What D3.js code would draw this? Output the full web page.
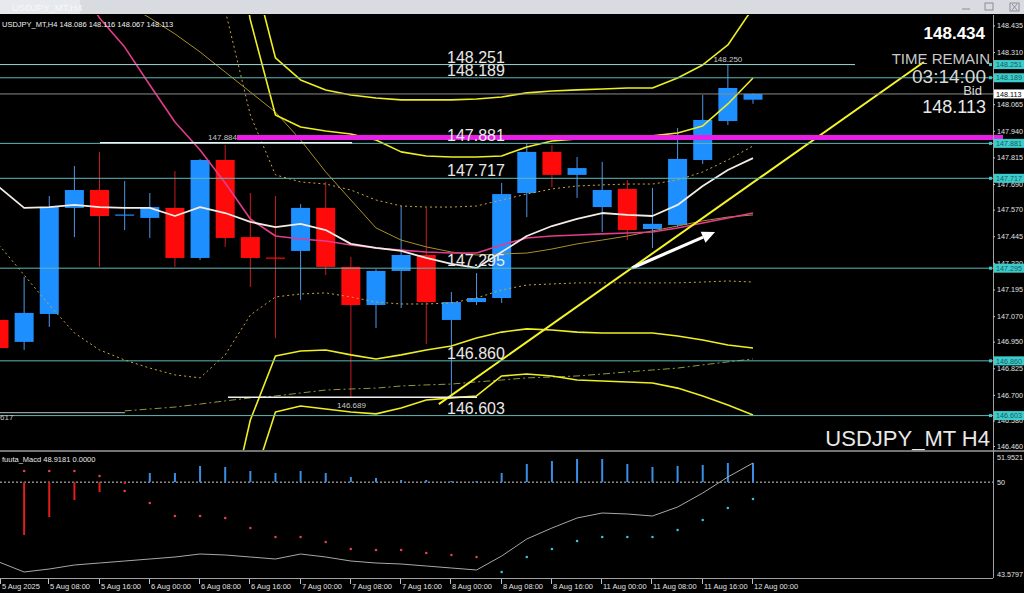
<!DOCTYPE html>
<html><head><meta charset="utf-8">
<script src="https://cdn.jsdelivr.net/npm/d3@7"></script>
<style>
body{margin:0;background:#000;overflow:hidden}
svg{display:block}
text{font-family:"Liberation Sans",Arial,sans-serif}
</style></head>
<body><svg id="c" width="1024" height="593"></svg>
<script>
// ---------------- DATA ----------------
const symbol = "USDJPY_MT,H4";
const ohlcInfo = "148.086 148.116 148.067 148.113";
// H4 candles, index 0 = 5 Aug 00:00 ... index 30 = 12 Aug 00:00
const opens  = [147.052,146.949,147.080,147.578,147.662,147.543,147.531,147.578,147.343,147.803,147.441,147.345,147.376,147.578,147.301,147.122,147.282,147.357,147.052,147.136,147.155,147.648,147.841,147.733,147.582,147.667,147.479,147.498,147.803,147.986,148.086];
const highs  = [147.075,147.254,147.634,147.775,147.841,147.704,147.648,147.751,147.808,147.873,147.648,147.634,147.596,147.700,147.348,147.290,147.587,147.578,147.183,147.272,147.695,147.883,147.873,147.817,147.794,147.709,147.672,147.953,148.108,148.250,148.116];
const lows   = [146.888,146.911,147.019,147.441,147.301,147.474,147.437,147.301,147.334,147.395,147.207,146.967,147.146,147.263,146.689,147.014,147.108,146.939,146.695,147.122,147.132,147.535,147.676,147.625,147.465,147.427,147.390,147.488,147.784,147.967,148.067];
const closes = [146.920,147.085,147.582,147.662,147.540,147.547,147.582,147.343,147.803,147.437,147.343,147.340,147.578,147.301,147.122,147.282,147.357,147.136,147.136,147.155,147.643,147.841,147.733,147.765,147.662,147.474,147.503,147.808,147.991,148.141,148.113];

// indicators (price values per candle)
const maFast = [147.676,147.578,147.582,147.592,147.582,147.578,147.578,147.540,147.582,147.554,147.512,147.488,147.503,147.474,147.409,147.390,147.376,147.343,147.315,147.296,147.371,147.446,147.493,147.526,147.554,147.545,147.540,147.592,147.681,147.756,147.812];
const bbMid  = [149.211,149.024,148.836,148.648,148.470,148.333,148.155,147.981,147.850,147.695,147.526,147.446,147.432,147.423,147.404,147.390,147.380,147.371,147.366,147.366,147.404,147.437,147.446,147.451,147.456,147.460,147.465,147.484,147.507,147.531,147.554];
const maSlow = [149.000,148.906,148.812,148.718,148.625,148.540,148.470,148.395,148.310,148.216,148.122,148.028,147.897,147.747,147.615,147.484,147.427,147.395,147.371,147.357,147.362,147.366,147.385,147.409,147.427,147.446,147.470,147.493,147.517,147.535,147.545];
const bbUp3  = [null,null,null,null,null,null,null,null,null,149.305,148.742,148.282,148.179,148.132,148.108,148.094,148.085,148.085,148.085,148.089,148.099,148.118,148.127,148.132,148.136,148.141,148.141,148.188,148.249,148.343,148.517];
const bbUp2  = [null,null,null,null,null,null,null,null,null,149.118,148.460,148.014,147.958,147.939,147.925,147.897,147.841,147.822,147.817,147.817,147.822,147.864,147.892,147.902,147.906,147.911,147.916,147.930,147.963,148.066,148.188];
const bbUp1  = [null,null,null,null,null,null,null,null,148.977,148.507,148.014,147.733,147.700,147.690,147.662,147.615,147.587,147.582,147.582,147.587,147.615,147.643,147.667,147.681,147.686,147.690,147.690,147.709,147.747,147.803,147.869];
const bbLo1  = [147.404,147.263,147.122,146.991,146.911,146.864,146.826,146.794,146.780,146.888,147.075,147.160,147.174,147.179,147.160,147.136,147.127,147.127,147.132,147.155,147.193,147.216,147.221,147.226,147.226,147.226,147.226,147.226,147.230,147.235,147.230];
const bbLo2  = [null,null,null,null,null,null,null,null,null,146.066,146.582,146.883,146.906,146.911,146.888,146.869,146.888,146.911,146.930,146.967,146.995,147.010,147.005,146.995,146.991,146.991,146.991,146.977,146.958,146.934,146.920];
const bbLo3  = [null,null,null,null,null,null,null,null,null,145.643,146.254,146.620,146.648,146.634,146.620,146.611,146.639,146.676,146.686,146.695,146.789,146.798,146.789,146.770,146.765,146.761,146.756,146.732,146.695,146.653,146.606];
const maLong = [null,null,null,null,null,146.625,146.634,146.643,146.657,146.672,146.686,146.695,146.709,146.723,146.728,146.732,146.742,146.747,146.751,146.761,146.770,146.780,146.784,146.789,146.798,146.808,146.817,146.826,146.841,146.855,146.869];

// horizontal levels drawn on the chart
const levels = [148.251, 148.189, 147.881, 147.717, 147.295, 146.860, 146.603];
const bidPrice = 148.113;
const magentaLevel = 147.909;
const highMark = 148.250;
const whiteSegs = [{p:147.884, i0:4.02, i1:14.05, label:"147.884"},{p:146.689, i0:9.11, i1:19.02, label:"146.689"}];
const graySeg = {p:146.617, i0:0, i1:5.01, label:"617"};
const trendLine = [{i:17.5, p:146.657},{i:36.8, p:148.263}];
const arrowPts = [{i:25.19, p:147.296},{i:28.49, p:147.465}];

// axis ticks
const priceTicks = [148.435,148.310,148.065,147.940,147.815,147.690,147.570,147.445,147.320,147.195,147.070,146.950,146.825,146.700,146.580,146.460];
const timeTickIdx = [0,2,4,6,8,10,12,14,16,18,20,22,24,26,28,30];
const timeLabels = ["5 Aug 2025","5 Aug 08:00","5 Aug 16:00","6 Aug 00:00","6 Aug 08:00","6 Aug 16:00","7 Aug 00:00","7 Aug 08:00","7 Aug 16:00","8 Aug 00:00","8 Aug 08:00","8 Aug 16:00","11 Aug 00:00","11 Aug 08:00","11 Aug 16:00","12 Aug 00:00"];

// MACD sub window
const macdLabel = "fuuta_Macd 48.9181  0.0000";
const macdTicks = [51.9521, 50, 43.5797];
const macdHist = [null,46.460,47.665,48.804,49.340,49.876,50.612,50.612,51.081,51.014,50.746,50.612,50.746,50.612,50.344,50.277,50.144,50.144,50.077,50.077,50.612,51.215,51.416,51.550,51.550,51.215,51.014,51.081,51.148,51.282,51.282];
const macdDots = [null,50.746,50.746,50.746,50.411,49.407,48.603,47.732,47.732,47.598,46.928,46.326,46.326,45.991,45.522,45.455,45.455,45.254,45.120,44.986,43.981,44.986,45.522,46.058,46.326,46.326,46.326,46.795,47.464,48.268,48.871];
const macdLine = [44.651,43.981,44.182,44.450,44.584,44.718,44.852,44.986,45.187,45.120,44.986,44.852,45.187,44.986,44.718,44.584,44.517,44.383,44.249,44.115,45.053,46.192,46.928,47.598,47.933,47.866,47.732,48.335,49.273,50.344,51.282];

// ---------------- DRAW ----------------
const W = 1024, H = 593;
const axisX = 993, mainTop = 15, mainBot = 450, subTop = 453, subBot = 578;
const axFont = '7.2px';
const svg = d3.select('#c');
const x = d3.scaleLinear().domain([0,30]).range([-1,753]);
const y = d3.scaleLinear().domain([146.4414,148.4837]).range([mainBot, mainTop]);
const ym = d3.scaleLinear().domain([43.5797,51.9521]).range([subBot, subTop]);

svg.append('rect').attr('width',W).attr('height',H).attr('fill','#000');
const defs = svg.append('defs');
defs.append('clipPath').attr('id','cm').append('rect').attr('x',0).attr('y',mainTop).attr('width',axisX).attr('height',mainBot-mainTop);
defs.append('clipPath').attr('id','cs').append('rect').attr('x',0).attr('y',subTop-1).attr('width',axisX).attr('height',subBot-subTop+1);

// title bar
svg.append('rect').attr('x',0).attr('y',0).attr('width',W).attr('height',14).attr('fill','#d8dce1');
svg.append('rect').attr('x',0).attr('y',0).attr('width',80).attr('height',14).attr('fill','#e6e9ed');
svg.append('text').attr('x',12).attr('y',11).attr('fill','#f7f8fa').style('font-size','9.5px').text(symbol);
const btn = svg.append('g').attr('stroke','#8a8e94').attr('fill','none');
btn.append('line').attr('x1',962).attr('x2',970).attr('y1',9).attr('y2',9);
btn.append('rect').attr('x',985).attr('y',3).attr('width',8).attr('height',7);
btn.append('rect').attr('x',1010).attr('y',3).attr('width',9).attr('height',8);
btn.append('path').attr('d','M1012,4L1017,10M1017,4L1012,10');

const main = svg.append('g').attr('clip-path','url(#cm)');

// candles
const cw = 19;
const cd = d3.range(opens.length).map(i=>({i,o:opens[i],h:highs[i],l:lows[i],c:closes[i]}));
main.selectAll('line.wick').data(cd).join('line')
  .attr('x1',d=>x(d.i)).attr('x2',d=>x(d.i))
  .attr('y1',d=>y(d.h)).attr('y2',d=>y(d.l))
  .attr('stroke',d=>d.c>=d.o?'#4f96e6':'#c81c1c').attr('stroke-width',1);
main.selectAll('rect.body').data(cd).join('rect')
  .attr('x',d=>x(d.i)-cw/2).attr('width',cw)
  .attr('y',d=>y(Math.max(d.o,d.c)))
  .attr('height',d=>Math.max(1.2,Math.abs(y(d.o)-y(d.c))))
  .attr('fill',d=>d.c>=d.o?'#1e8fff':'#ff0a0a');

// indicator lines
function series(arr, color, width, dash){
  main.append('path').datum(arr.map((v,i)=>[i,v]))
   .attr('d', d3.line().defined(d=>d[1]!=null).x(d=>x(d[0])).y(d=>y(d[1])))
   .attr('fill','none').attr('stroke',color).attr('stroke-width',width)
   .attr('stroke-dasharray',dash||null).attr('stroke-linejoin','round');
}
series(maLong,'#8f9a3c',1,'7,3,2,3');
series(bbUp1,'#c9a640',1,'2,3');
series(bbLo1,'#c9a640',1,'2,3');
series(maSlow,'#a8902c',1);
series(bbUp3,'#eeee22',1.6);
series(bbLo3,'#eeee22',1.6);
series(bbUp2,'#eeee22',1.6);
series(bbLo2,'#eeee22',1.6);
series(bbMid,'#e23c8c',1.6);
series(maFast,'#f2ece4',1.8);

// horizontal level lines
const lv = svg.append('g');
levels.forEach(p=>{
  const x2 = p===148.251 ? x(34.06) : axisX;
  lv.append('line').attr('x1',0).attr('x2',x2).attr('y1',y(p)).attr('y2',y(p))
    .attr('stroke', p===148.251 ? '#9fd4d4':'#5fb8b8').attr('stroke-width',1);
});
lv.append('line').attr('x1',0).attr('x2',axisX).attr('y1',y(bidPrice)).attr('y2',y(bidPrice)).attr('stroke','#8c8c8c').attr('stroke-width',1);
whiteSegs.forEach(s=>{
  lv.append('line').attr('x1',x(s.i0)).attr('x2',x(s.i1)).attr('y1',y(s.p)).attr('y2',y(s.p)).attr('stroke','#f0f0f0').attr('stroke-width',1.5);
});
lv.append('line').attr('x1',x(graySeg.i0)).attr('x2',x(graySeg.i1)).attr('y1',y(graySeg.p)).attr('y2',y(graySeg.p)).attr('stroke','#9a9a9a').attr('stroke-width',1.2);
lv.append('line').attr('x1',x(9.47)).attr('x2',axisX+10).attr('y1',y(magentaLevel)).attr('y2',y(magentaLevel)).attr('stroke','#e81ee8').attr('stroke-width',5);

// trend line
main.append('path').datum(trendLine)
  .attr('d',d3.line().x(d=>x(d.i)).y(d=>y(d.p)))
  .attr('stroke','#f4f428').attr('stroke-width',2).attr('fill','none');

// white arrow
const a0 = arrowPts[0], a1 = arrowPts[1];
const ax0=x(a0.i), ay0=y(a0.p), ax1=x(a1.i), ay1=y(a1.p);
const ang = Math.atan2(ay1-ay0, ax1-ax0);
const hl = 13, hw = 6;
const bx = ax1 - hl*Math.cos(ang), by = ay1 - hl*Math.sin(ang);
main.append('line').attr('x1',ax0).attr('y1',ay0).attr('x2',bx).attr('y2',by).attr('stroke','#fff').attr('stroke-width',3.2);
main.append('polygon').attr('fill','#fff').attr('points',[
  [ax1,ay1],[bx - hw*Math.sin(ang), by + hw*Math.cos(ang)],[bx + hw*Math.sin(ang), by - hw*Math.cos(ang)]
].map(p=>p.join(',')).join(' '));

// level labels (big)
const tl = svg.append('g').style('font-size','16px').attr('fill','#e8e8e8');
levels.forEach(p=>{
  tl.append('text').attr('x',447).attr('y',y(p)-2).text(p.toFixed(3));
});
// small labels
const sl = svg.append('g').style('font-size','8px').attr('fill','#c8c8c8');
sl.append('text').attr('x',x(9.47)).attr('y',y(whiteSegs[0].p)-3).attr('text-anchor','end').text(whiteSegs[0].label);
sl.append('text').attr('x',337).attr('y',y(whiteSegs[1].p)+11).text(whiteSegs[1].label);
sl.append('text').attr('x',x(29)).attr('y',y(highMark)-3).attr('text-anchor','middle').text(highMark.toFixed(3));
sl.append('text').attr('x',0).attr('y',y(graySeg.p)+7).text(graySeg.label);

// top-left info
svg.append('text').attr('x',2).attr('y',27).attr('fill','#f0f0f0').style('font-size','7.5px')
  .text(symbol + "  " + ohlcInfo);

// right texts
const rt = svg.append('g').attr('text-anchor','end').attr('fill','#e6e6e6');
rt.append('text').attr('x',985).attr('y',39).style('font-size','17px').style('font-weight','bold').attr('fill','#ffffff').text("148.434");
rt.append('text').attr('x',990).attr('y',64).style('font-size','15px').attr('fill','#c8c8c8').text("TIME REMAIN");
rt.append('text').attr('x',986).attr('y',83).style('font-size','19px').attr('fill','#d8d8d8').text("03:14:00");
rt.append('text').attr('x',982).attr('y',95).style('font-size','13px').attr('fill','#d8d8d8').text("Bid");
rt.append('text').attr('x',986).attr('y',113).style('font-size','18px').attr('fill','#e8e8e8').text(bidPrice.toFixed(3));
rt.append('text').attr('x',990).attr('y',446).style('font-size','22px').attr('fill','#e8e8e8').text("USDJPY_MT H4");

// ---- MACD sub window ----
const sub = svg.append('g').attr('clip-path','url(#cs)');
sub.append('line').attr('x1',0).attr('x2',axisX).attr('y1',ym(50)).attr('y2',ym(50))
  .attr('stroke','#d0d0d0').attr('stroke-dasharray','2,2').attr('stroke-width',1);
const hd = macdHist.map((v,i)=>({i,v})).filter(d=>d.v!=null);
sub.selectAll('line.h').data(hd).join('line')
  .attr('x1',d=>x(d.i)).attr('x2',d=>x(d.i)).attr('y1',ym(50)).attr('y2',d=>ym(d.v))
  .attr('stroke',d=>d.v<50?'#e41c1c':'#3a8ee6').attr('stroke-width',2);
sub.append('path').datum(macdLine.map((v,i)=>[i,v]))
  .attr('d',d3.line().x(d=>x(d[0])).y(d=>ym(d[1])))
  .attr('fill','none').attr('stroke','#a8a8a8').attr('stroke-width',1);
const dd = macdDots.map((v,i)=>({i,v})).filter(d=>d.v!=null);
sub.selectAll('circle').data(dd).join('circle')
  .attr('cx',d=>x(d.i)).attr('cy',d=>ym(d.v)).attr('r',1.3)
  .attr('fill',d=>d.i<20?'#e0424e':'#3cc0dc');
svg.append('text').attr('x',2).attr('y',462).attr('fill','#e8e8e8').style('font-size','7.5px').text(macdLabel);

// frame lines
svg.append('line').attr('x1',0).attr('x2',W).attr('y1',451).attr('y2',451).attr('stroke','#9a9a9a').attr('stroke-width',1.5);
svg.append('line').attr('x1',axisX+0.5).attr('x2',axisX+0.5).attr('y1',mainTop).attr('y2',subBot).attr('stroke','#a0a0a0');
svg.append('line').attr('x1',0).attr('x2',axisX).attr('y1',subBot+0.5).attr('y2',subBot+0.5).attr('stroke','#a0a0a0');

// price axis
const pa = svg.append('g').attr('transform',`translate(${axisX},0)`)
  .call(d3.axisRight(y).tickValues(priceTicks).tickFormat(d3.format('.3f')).tickSize(2).tickPadding(2));
pa.select('.domain').remove();
pa.selectAll('line').attr('stroke','#c0c0c0');
pa.selectAll('text').attr('fill','#e0e0e0').style('font-size',axFont).style('font-family','"Liberation Sans",Arial,sans-serif');

// highlighted level tags
const tags = svg.append('g');
levels.forEach(p=>{
  tags.append('rect').attr('x',axisX+1).attr('y',y(p)-4.5).attr('width',30).attr('height',9).attr('fill','#3ccccc');
  tags.append('text').attr('x',axisX+3).attr('y',y(p)+2.7).attr('fill','#1d5a5a').style('font-size',axFont).text(p.toFixed(3));
  tags.append('rect').attr('x',axisX-4).attr('y',y(p)-1.5).attr('width',3).attr('height',3).attr('fill','#3ccccc');
});
tags.append('rect').attr('x',axisX+1).attr('y',y(bidPrice)-4.5).attr('width',30).attr('height',9).attr('fill','#ffffff');
tags.append('text').attr('x',axisX+3).attr('y',y(bidPrice)+2.7).attr('fill','#000').style('font-size',axFont).text(bidPrice.toFixed(3));

// MACD axis
const ma = svg.append('g').attr('transform',`translate(${axisX},0)`)
  .call(d3.axisRight(ym).tickValues(macdTicks).tickFormat(d=>d===50?"50":d3.format('.4f')(d)).tickSize(0).tickPadding(4));
ma.select('.domain').remove();
ma.selectAll('text').attr('fill','#e0e0e0').style('font-size',axFont).style('font-family','"Liberation Sans",Arial,sans-serif');
ma.selectAll('.tick').filter(d=>d===51.9521).select('text').attr('dy','0.9em');
ma.selectAll('.tick').filter(d=>d===43.5797).select('text').attr('dy','-0.2em');

// time axis
const ta = svg.append('g');
timeTickIdx.forEach((t,k)=>{
  const tx = Math.max(0.5, Math.round(x(t))-0.5);
  ta.append('line').attr('x1',tx).attr('x2',tx).attr('y1',subBot+1).attr('y2',subBot+6).attr('stroke','#c0c0c0');
  ta.append('text').attr('x',tx+1.5).attr('y',589).attr('fill','#e0e0e0').style('font-size','7.5px').text(timeLabels[k]);
});
</script></body></html>
